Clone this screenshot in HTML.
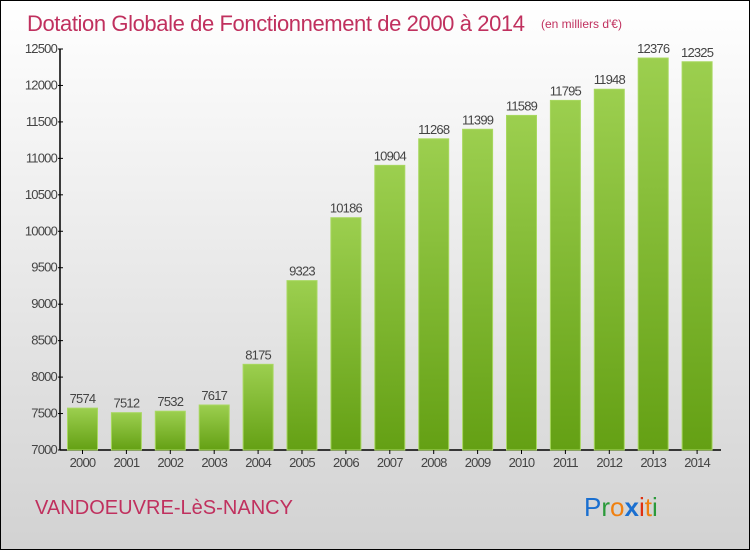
<!DOCTYPE html>
<html><head><meta charset="utf-8"><style>
body{margin:0;}
#c{width:748px;height:548px;border:1px solid #000;background:linear-gradient(#fff,#d2d2d2);position:relative;font-family:"Liberation Sans",sans-serif;overflow:hidden}
svg text{font-family:"Liberation Sans",sans-serif}
</style></head><body>
<div id="c">
<svg width="748" height="548" id="s">
<defs><linearGradient id="g" x1="0" y1="0" x2="0" y2="1"><stop offset="0" stop-color="#9ccf4f"/><stop offset="1" stop-color="#64a014"/></linearGradient></defs>
<text x="26" y="30" font-size="22" fill="#c0305e" textLength="498">Dotation Globale de Fonctionnement de 2000 à 2014</text>
<text x="540" y="27" font-size="12" fill="#c0305e">(en milliers d'€)</text>
<text x="34" y="513" font-size="20" fill="#c0305e" textLength="258">VANDOEUVRE-LèS-NANCY</text>
<g font-size="26">
<text x="583" y="515"><tspan fill="#1a6fd0">P</tspan><tspan fill="#2a9a3a">r</tspan><tspan fill="#f08010">o</tspan><tspan fill="#1a6fd0" font-weight="bold">x</tspan><tspan fill="#e03010">i</tspan><tspan fill="#f08010">t</tspan><tspan fill="#2a9a3a">i</tspan></text></g>
<g id="plot"></g>
</svg></div>
<script>
const years=["2000","2001","2002","2003","2004","2005","2006","2007","2008","2009","2010","2011","2012","2013","2014"];
const values=[7574,7512,7532,7617,8175,9323,10186,10904,11268,11399,11589,11795,11948,12376,12325];
const yTicks=[7000,7500,8000,8500,9000,9500,10000,10500,11000,11500,12000,12500];
const NS="http://www.w3.org/2000/svg";
const g=document.getElementById('plot');
const y=v=>449-(v-7000)*(401/5500);
const x=i=>81.5+i*43.9;
function mk(t,a,p){const e=document.createElementNS(NS,t);for(const k in a)e.setAttribute(k,a[k]);(p||g).appendChild(e);return e;}
let ax=mk('line',{x1:59,y1:48,x2:59,y2:449,stroke:'#000','stroke-width':1.5});


let bx=mk('line',{x1:59,y1:449,x2:720,y2:449,stroke:'#000','stroke-width':1.5});


yTicks.forEach(v=>{
 mk('line',{x1:57,x2:62,y1:y(v),y2:y(v),stroke:'#000'});
 const t=mk('text',{x:56,y:y(v)+4,'text-anchor':'end','font-size':13,fill:'#444','letter-spacing':'-0.8'});
 t.textContent=v;
 
 
});
values.forEach((v,i)=>{
 const r=mk('rect',{x:x(i)-15,y:y(v),width:30,height:449-y(v),fill:'url(#g)',stroke:'#a8d860','stroke-width':1});
 
 
 const t=mk('text',{x:x(i),y:y(v)-5,'text-anchor':'middle','font-size':13,fill:'#444','letter-spacing':'-0.8'});
 t.textContent=v;
 
 
 mk('line',{x1:x(i),x2:x(i),y1:449,y2:453,stroke:'#000'});
 const l=mk('text',{x:x(i),y:466,'text-anchor':'middle','font-size':13,fill:'#444','letter-spacing':'-0.8'});
 l.textContent=years[i];
 
 
});
</script>
</body></html>
